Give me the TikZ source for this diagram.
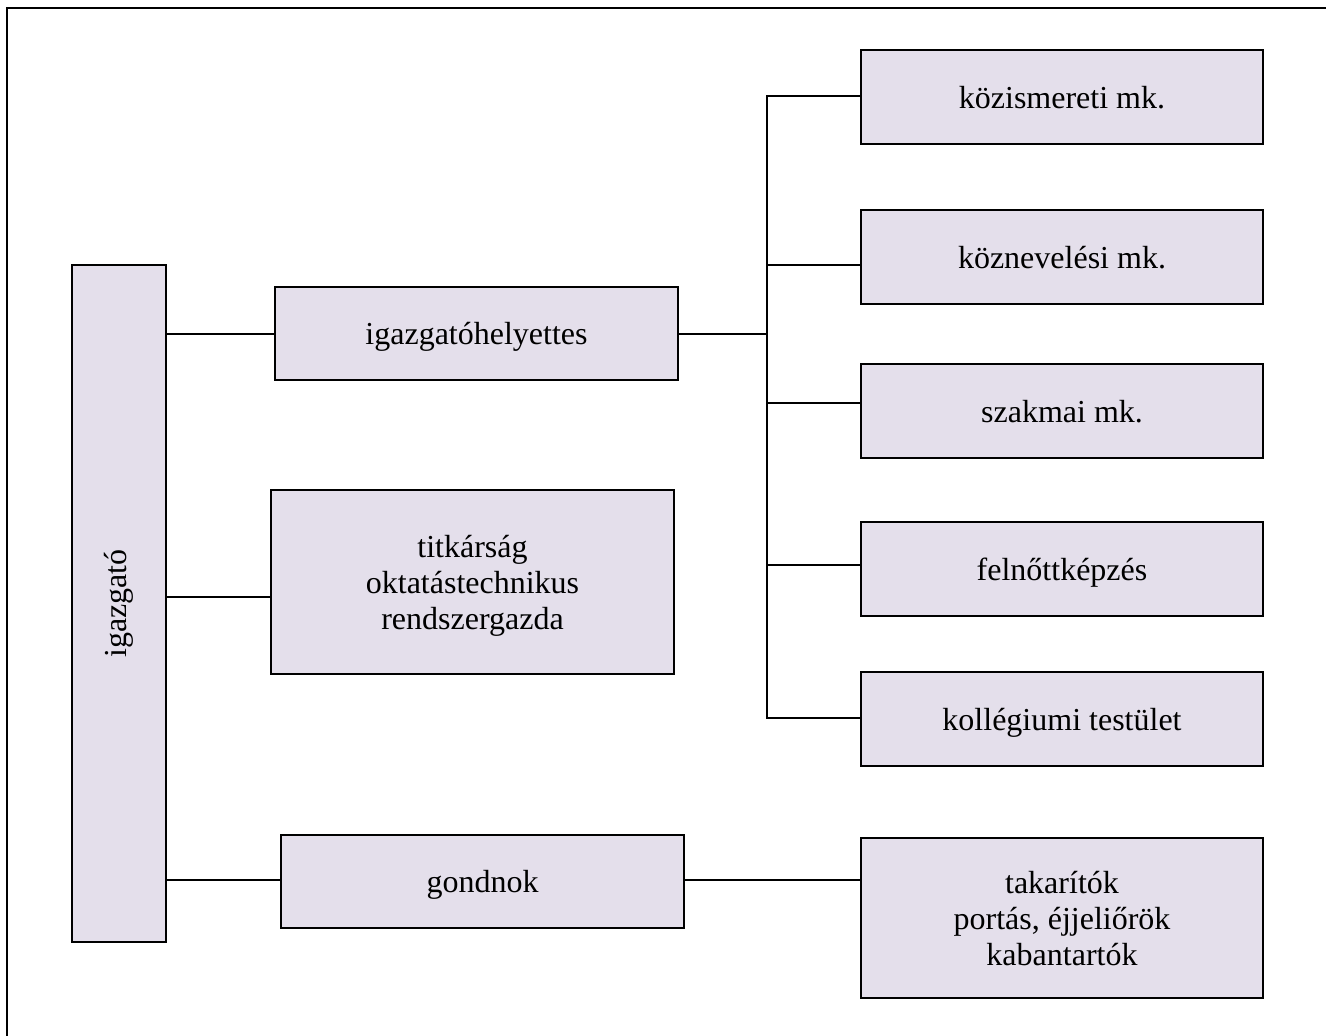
\documentclass[tikz,border=0pt]{standalone}
\usepackage{fontspec}
\setmainfont{Liberation Serif}
\definecolor{boxfill}{HTML}{E4DFEB}
\begin{document}
\begin{tikzpicture}[x=1pt,y=-1pt,
  box/.style={draw=black, line width=2pt, fill=boxfill, inner sep=0pt, align=center,
    font=\fontsize{32}{36}\selectfont},
  oneline/.style={box, text height=26pt, text depth=4pt},
  threeline/.style={box, text height=98pt, text depth=4pt},
  conn/.style={draw=black, line width=2pt}]
\useasboundingbox (0,0) rectangle (1326,1036);
\draw[line width=2.2pt] (7,8) rectangle (1345,1055);
% left column
\node[box, minimum width=94pt, minimum height=677pt] (igaz) at (119,603.5)
  {\rotatebox{90}{igazgató}};
% middle column
\node[oneline, minimum width=403pt, minimum height=93pt] (hely) at (476.5,333.5) {igazgatóhelyettes};
\node[threeline, minimum width=403pt, minimum height=184pt] (titk) at (472.5,582)
  {titkárság\\oktatástechnikus\\rendszergazda};
\node[oneline, minimum width=403pt, minimum height=93pt] (gond) at (482.5,881.5) {gondnok};
% right column
\node[oneline, minimum width=402pt, minimum height=94pt] (kozism) at (1062,97) {közismereti mk.};
\node[oneline, minimum width=402pt, minimum height=94pt] (kozn) at (1062,257) {köznevelési mk.};
\node[oneline, minimum width=402pt, minimum height=94pt] (szak) at (1062,411) {szakmai mk.};
\node[oneline, minimum width=402pt, minimum height=94pt] (feln) at (1062,569) {felnőttképzés};
\node[oneline, minimum width=402pt, minimum height=94pt] (koll) at (1062,719) {kollégiumi testület};
\node[threeline, minimum width=402pt, minimum height=160pt] (takar) at (1062,918)
  {takarítók\\portás, éjjeliőrök\\kabantartók};
% bus
\coordinate (bustop) at (767,96);
\coordinate (busbot) at (767,718);
\coordinate (busmid) at (767,334);
% connectors
\draw[conn] (igaz.east |- busmid) -- (hely.west |- busmid);
\draw[conn] (igaz.east |- 0,597) -- (titk.west |- 0,597);
\draw[conn] (igaz.east |- 0,880) -- (gond.west |- 0,880);
\draw[conn] (gond.east |- 0,880) -- (takar.west |- 0,880);
\draw[conn] (hely.east |- busmid) -- (busmid);
\draw[conn] (kozism.west |- bustop) -- (bustop) -- (busbot) -- (koll.west |- busbot);
\draw[conn] (bustop |- 0,265) -- (kozn.west |- 0,265);
\draw[conn] (bustop |- 0,403) -- (szak.west |- 0,403);
\draw[conn] (bustop |- 0,565) -- (feln.west |- 0,565);
\end{tikzpicture}
\end{document}
